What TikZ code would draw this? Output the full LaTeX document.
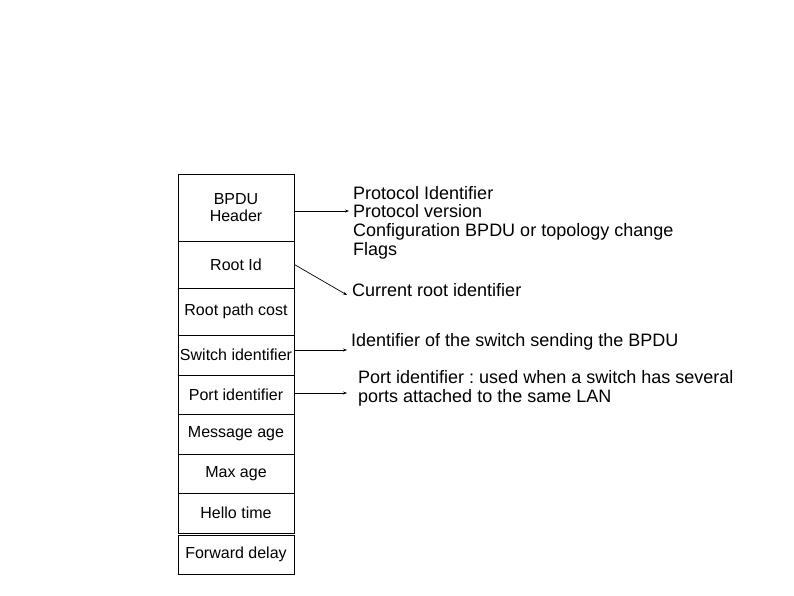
\documentclass[tikz,border=0pt]{standalone}
\usepackage{fontspec}
\setmainfont{Liberation Sans}
\usetikzlibrary{arrows.meta}
\frenchspacing
\begin{document}
\begin{tikzpicture}[x=1pt,y=-1pt,
    field/.style={draw,line width=0.8pt,minimum width=116pt,inner sep=0pt,align=center,font=\fontsize{16}{16.5}\selectfont},
    note/.style={anchor=west,inner sep=0pt,align=left,font=\fontsize{18}{18.7}\selectfont},
    link/.style={line width=0.7pt,-{Stealth[length=4pt,width=3pt]}}]
  \useasboundingbox (0,0) rectangle (794,595);
  % the BPDU fields
  \node[field,minimum height=67pt] (hdr) at (236,207.5) {BPDU\\Header};
  \node[field,minimum height=47pt] (rootid) at (236,264.5) {Root Id};
  \node[field,minimum height=47pt] (cost) at (236,311.5) {Root path cost};
  \node[field,minimum height=40pt] (switch) at (236,355) {Switch identifier};
  \node[field,minimum height=39pt] (port) at (236,394.5) {Port identifier};
  \node[field,minimum height=40pt] (msgage) at (236,434) {Message age};
  \node[field,minimum height=39pt] (maxage) at (236,473.5) {Max age};
  \node[field,minimum height=40pt] (hello) at (236,513) {Hello time};
  \node[field,minimum height=39pt] (fwd) at (236,554.5) {Forward delay};
  % what they hold
  \node[note] (hdrnote) at (353,222.5) {Protocol Identifier\\Protocol version\\Configuration BPDU or topology change\\Flags};
  \node[note] (rootnote) at (352,290) {Current root identifier};
  \node[note] (switchnote) at (351,342) {Identifier of the switch sending the BPDU};
  \node[note] (portnote) at (358,388) {Port identifier : used when a switch has several\\ports attached to the same LAN};
  \coordinate (hdrtip) at (349,211);
  \coordinate (roottip) at (347,295);
  \coordinate (switchtip) at (347,350);
  \coordinate (porttip) at (347,393);
  \draw[link] (hdr.east |- hdrtip) -- (hdrtip);
  \draw[link] (rootid.east) -- (roottip);
  \draw[link] (switch.east |- switchtip) -- (switchtip);
  \draw[link] (port.east |- porttip) -- (porttip);
\end{tikzpicture}
\end{document}
